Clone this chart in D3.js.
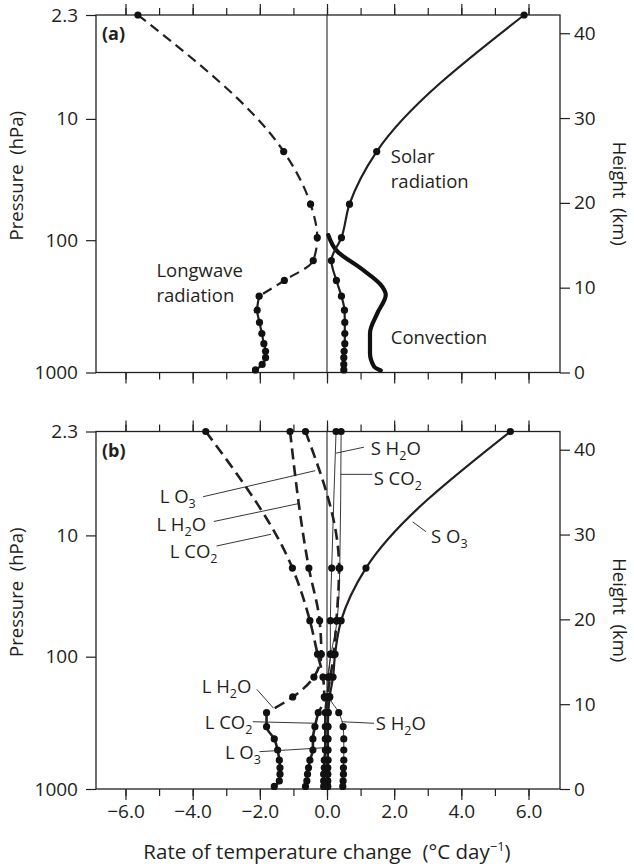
<!DOCTYPE html>
<html lang="en">
<head>
<meta charset="UTF-8">
<title>Radiative heating rates</title>
<script src="https://d3js.org/d3.v7.min.js"></script>
<style>
  body { margin: 0; background: #fff; }
  svg text { font-family: "Open Sans", sans-serif; fill: #231f20; }
</style>
</head>
<body>
<div id="chart"></div>
<script>
// ---- data (heating rates in °C/day, heights in km) ----
const xTickValues = [-6, -4, -2, 0, 2, 4, 6];
const xMinorTicks = [-6, -5, -4, -3, -2, -1, 0, 1, 2, 3, 4, 5, 6];
const pressureLabels = ["2.3", "10", "100", "1000"];
const pressureHeightsKm = [42.15, 29.9, 15.6, 0];
const heightTicksKm = [0, 10, 20, 30, 40];
const topKm = 42.15;

// levels where the dots sit, top to bottom
const levelsKm = [42.15, 26.05, 19.85, 15.9, 13.2, 10.85, 9.0, 7.35, 5.9, 4.6, 3.4, 2.5, 1.75, 0.95, 0.3];

// panel (a)
const longwave = [-5.63, -1.29, -0.49, -0.29, -0.41, -1.27, -2.02, -2.08, -2.01, -1.94, -1.88, -1.83, -1.83, -1.93, -2.13];
const solar = [5.87, 1.48, 0.67, 0.43, 0.13, 0.28, 0.43, 0.52, 0.53, 0.53, 0.53, 0.51, 0.50, 0.50, 0.50];
const convectionKm = [16.2, 14.26, 12.3, 10.1, 9.16, 7.0, 4.64, 2.29, 0.71, 0.24];
const convection = [0.04, 0.31, 1.0, 1.65, 1.75, 1.50, 1.28, 1.28, 1.40, 1.60];

// panel (b)
const lCO2 = [-3.61, -1.03, -0.51, -0.28, -0.12, -0.08, -0.26, -0.36, -0.42, -0.42, -0.51, -0.55, -0.58, -0.60, -0.64];
const lH2O = [-1.10, -0.54, -0.22, -0.17, -0.39, -1.02, -1.80, -1.80, -1.57, -1.47, -1.42, -1.40, -1.40, -1.42, -1.57];
const lO3 = [-0.64, 0.36, 0.28, 0.20, 0.10, 0.00, -0.05, -0.05, -0.05, -0.05, -0.08, -0.08, -0.10, -0.10, -0.10];
const sH2O = [0.27, 0.14, 0.10, 0.10, 0.05, 0.08, 0.35, 0.48, 0.50, 0.50, 0.50, 0.49, 0.49, 0.48, 0.47];
const sCO2 = [0.42, 0.38, 0.30, 0.12, 0.03, 0.02, 0.02, 0.02, 0.02, 0.02, 0.02, 0.02, 0.02, 0.02, 0.02];
const sO3 = [5.46, 1.16, 0.42, 0.24, 0.18, 0.08, 0.04, 0.03, 0.03, 0.03, 0.03, 0.02, 0.02, 0.02, 0.02];

// ---- layout ----
const svg = d3.select("#chart").append("svg")
    .attr("width", 634)
    .attr("height", 867);

const frameLeft = 96, frameRight = 560;
const ink = "#231f20";
const x = d3.scaleLinear().domain([-6, 6]).range([125.5, 528.5]);
const line = d3.line().curve(d3.curveMonotoneY);

function styleAxis(sel) {
    sel.select(".domain").remove();
    sel.selectAll("line").attr("stroke", ink).attr("stroke-width", 1.2);
    sel.selectAll("text").attr("font-family", "Open Sans, sans-serif").attr("font-size", 19).attr("fill", ink);
}

function addText(g, px, py, parts) {
    const t = g.append("text").attr("x", px).attr("y", py).attr("font-size", 18.5);
    parts.forEach((p, i) => {
        const s = t.append("tspan").text(p);
        if (i % 2 === 1) s.attr("font-size", 12.5).attr("dy", 5);
        else if (i > 0) s.attr("dy", -5);
    });
    return t;
}

// draws one profile: dashed on top down to level `dashTo`, solid below
function drawProfile(g, y, values, opts) {
    const pts = values.map((v, i) => [x(v), y(levelsKm[i])]);
    if (opts.dashTo != null) {
        g.append("path").attr("d", line(pts.slice(0, opts.dashTo + 1)))
            .attr("fill", "none").attr("stroke", ink)
            .attr("stroke-width", opts.width).attr("stroke-dasharray", opts.dash);
        g.append("path").attr("d", line(pts.slice(opts.dashTo)))
            .attr("fill", "none").attr("stroke", ink).attr("stroke-width", opts.width);
    } else {
        g.append("path").attr("d", line(pts))
            .attr("fill", "none").attr("stroke", ink).attr("stroke-width", opts.width);
    }
    return pts;
}

function drawDots(g, pts) {
    g.selectAll(null).data(pts).join("circle")
        .attr("cx", d => d[0]).attr("cy", d => d[1]).attr("r", 3.6).attr("fill", "#111");
}

function drawPanel(top, bottom, tag, showXLabels) {
    const y = d3.scaleLinear().domain([0, topKm]).range([bottom, top]);
    const g = svg.append("g");

    // zero line
    g.append("line")
        .attr("x1", x(0)).attr("x2", x(0)).attr("y1", top).attr("y2", bottom)
        .attr("stroke", "#4a4a4a").attr("stroke-width", 1.3);

    // left pressure axis
    g.append("g").attr("transform", `translate(${frameLeft},0)`)
        .call(d3.axisLeft(y).tickValues(pressureHeightsKm)
            .tickFormat((d, i) => pressureLabels[i]).tickSize(10).tickPadding(8))
        .call(styleAxis);

    // right height axis
    g.append("g").attr("transform", `translate(${frameRight},0)`)
        .call(d3.axisRight(y).tickValues(heightTicksKm).tickSize(10).tickPadding(4))
        .call(styleAxis);

    // top ticks
    g.append("g").attr("transform", `translate(0,${top})`)
        .call(d3.axisTop(x).tickValues(xMinorTicks).tickSize(7).tickFormat(""))
        .call(styleAxis);
    g.append("g").attr("transform", `translate(0,${top})`)
        .call(d3.axisTop(x).tickValues(xTickValues).tickSize(11).tickFormat(""))
        .call(styleAxis);

    // bottom ticks
    g.append("g").attr("transform", `translate(0,${bottom})`)
        .call(d3.axisBottom(x).tickValues(xMinorTicks).tickSize(7).tickFormat(""))
        .call(styleAxis);
    g.append("g").attr("transform", `translate(0,${bottom})`)
        .call(d3.axisBottom(x).tickValues(xTickValues).tickSize(11).tickPadding(5)
            .tickFormat(showXLabels ? d3.format(".1f") : ""))
        .call(styleAxis);

    // frame
    g.append("rect")
        .attr("x", frameLeft).attr("y", top)
        .attr("width", frameRight - frameLeft).attr("height", bottom - top)
        .attr("fill", "none").attr("stroke", ink).attr("stroke-width", 1.3);

    // panel tag
    g.append("text").attr("x", frameLeft + 6).attr("y", top + 25)
        .attr("font-size", 18).attr("font-weight", "bold").text(tag);

    // axis titles
    g.append("text")
        .attr("transform", `translate(23,${(top + bottom) / 2 - 18}) rotate(-90)`)
        .attr("text-anchor", "middle").attr("font-size", 18.5)
        .text("Pressure\u00a0\u00a0(hPa)");
    g.append("text")
        .attr("transform", `translate(613,${(top + bottom) / 2}) rotate(90)`)
        .attr("text-anchor", "middle").attr("font-size", 18.5)
        .text("Height\u00a0\u00a0(km)");

    return { g, y };
}

// ---- panel (a) ----
const A = drawPanel(15, 372.5, "(a)", false);
{
    const { g, y } = A;
    const convPts = convection.map((v, i) => [x(v), y(convectionKm[i])]);
    g.append("path").attr("d", line(convPts))
        .attr("fill", "none").attr("stroke", "#111").attr("stroke-width", 4.2)
        .attr("stroke-linecap", "round");
    const lw = drawProfile(g, y, longwave, { width: 2.2, dash: "10,6", dashTo: 6 });
    const sw = drawProfile(g, y, solar, { width: 2.2 });
    drawDots(g, lw);
    drawDots(g, sw);

    const labelsA = [
        { parts: ["Solar"], v: 1.90, km: 24.7 },
        { parts: ["radiation"], v: 1.90, km: 21.75 },
        { parts: ["Longwave"], v: -5.08, km: 11.3 },
        { parts: ["radiation"], v: -5.08, km: 8.35 },
        { parts: ["Convection"], v: 1.90, km: 3.36 }
    ];
    labelsA.forEach(l => addText(g, x(l.v), y(l.km), l.parts));
}

// ---- panel (b) ----
const B = drawPanel(431.5, 789, "(b)", true);
{
    const { g, y } = B;
    const all = [];
    all.push(drawProfile(g, y, sH2O, { width: 0.9 }));
    all.push(drawProfile(g, y, sCO2, { width: 0.9 }));
    all.push(drawProfile(g, y, sO3, { width: 2.2 }));
    all.push(drawProfile(g, y, lO3, { width: 2.6, dash: "11,6", dashTo: 6 }));
    all.push(drawProfile(g, y, lH2O, { width: 2.6, dash: "11,6", dashTo: 6 }));
    all.push(drawProfile(g, y, lCO2, { width: 2.6, dash: "11,6", dashTo: 6 }));
    all.forEach(p => drawDots(g, p));

    const labelsB = [
        { parts: ["S H", "2", "O"], v: 1.30, km: 39.4, from: [1.10, 40.3], to: [0.27, 39.6] },
        { parts: ["S CO", "2"], v: 1.39, km: 35.85, from: [1.35, 37.1], to: [0.41, 37.1] },
        { parts: ["L O", "3"], v: -4.98, km: 33.68, from: [-3.69, 34.46], to: [-0.35, 37.53] },
        { parts: ["L H", "2", "O"], v: -5.08, km: 30.45, from: [-3.37, 31.54], to: [-0.81, 33.68] },
        { parts: ["L CO", "2"], v: -4.68, km: 27.2, from: [-3.29, 28.65], to: [-1.67, 30.03] },
        { parts: ["S O", "3"], v: 3.10, km: 28.97, from: [2.95, 30.33], to: [2.55, 31.5] },
        { parts: ["L H", "2", "O"], v: -3.73, km: 11.28, from: [-2.09, 11.75], to: [-1.59, 9.51] },
        { parts: ["L CO", "2"], v: -3.64, km: 7.04, from: [-2.21, 7.93], to: [-0.33, 7.75] },
        { parts: ["L O", "3"], v: -3.04, km: 3.5, from: [-2.01, 4.4], to: [-0.06, 4.87] },
        { parts: ["S H", "2", "O"], v: 1.45, km: 6.96, from: [1.40, 7.75], to: [0.44, 7.93] }
    ];
    labelsB.forEach(l => {
        g.append("line")
            .attr("x1", x(l.from[0])).attr("y1", y(l.from[1]))
            .attr("x2", x(l.to[0])).attr("y2", y(l.to[1]))
            .attr("stroke", ink).attr("stroke-width", 0.9);
        addText(g, x(l.v), y(l.km), l.parts);
    });
}

// ---- x axis title ----
const xt = svg.append("text")
    .attr("x", x(0)).attr("y", 859)
    .attr("text-anchor", "middle").attr("font-size", 20.5);
xt.append("tspan").text("Rate of temperature change\u00a0\u00a0(°C day");
xt.append("tspan").attr("font-size", 13).attr("dy", -8).text("\u22121");
xt.append("tspan").attr("dy", 8).text(")");
</script>
</body>
</html>
